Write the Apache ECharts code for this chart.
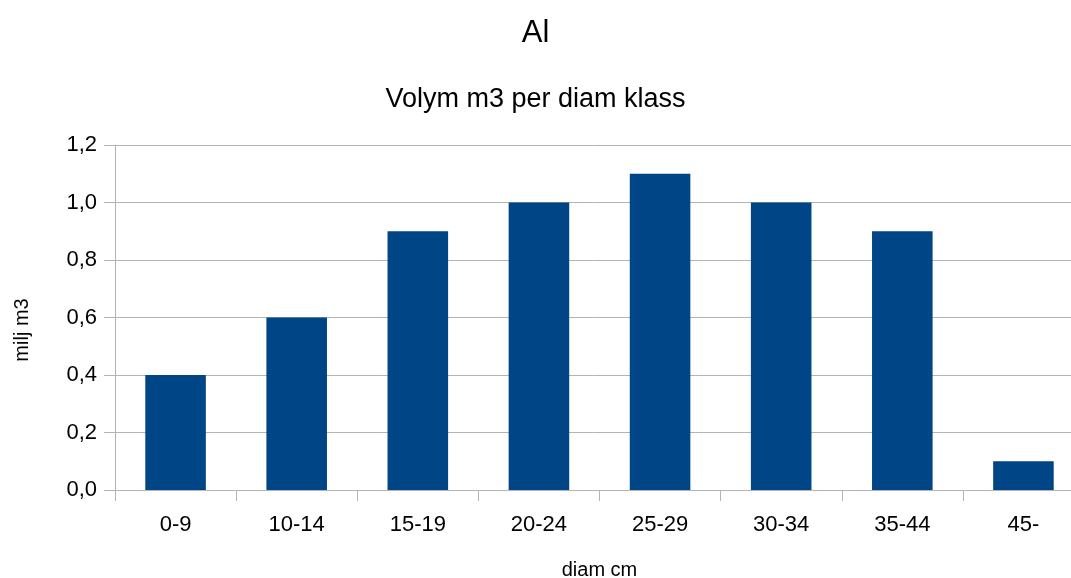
<!DOCTYPE html>
<html><head><meta charset="utf-8">
<script src="https://cdn.jsdelivr.net/npm/echarts@6/dist/echarts.min.js"></script>
<style>html,body{margin:0;padding:0;background:#fff;overflow:hidden}#c{width:1071px;height:578px}</style>
</head><body><div id="c"></div>
<script>
const categories = ['0-9','10-14','15-19','20-24','25-29','30-34','35-44','45-'];
const values = [0.4, 0.6, 0.9, 1.0, 1.1, 1.0, 0.9, 0.1];
const yTicks = [0, 0.2, 0.4, 0.6, 0.8, 1.0, 1.2];
const FONT = 'Liberation Sans';
const chart = echarts.init(document.getElementById('c'));
chart.setOption({
  animation: false,
  textStyle: {fontFamily: FONT},
  title: [
    {text: 'Al', left: 'center', top: 13, textStyle: {fontFamily: FONT, fontSize: 31, fontWeight: 'normal', color: '#000'}},
    {text: 'Volym m3 per diam klass', left: 'center', top: 81, textStyle: {fontFamily: FONT, fontSize: 27, fontWeight: 'normal', color: '#000'}}
  ],
  graphic: [
    {type: 'text', x: 22, y: 330, rotation: Math.PI / 2,
     style: {text: 'milj m3', fontFamily: FONT, fontSize: 20, fill: '#000', align: 'center', verticalAlign: 'middle'}}
  ],
  grid: {left: 115, top: 145, width: 969, height: 345, containLabel: false, outerBoundsMode: 'none'},
  xAxis: {
    type: 'category', data: categories,
    name: 'diam cm', nameLocation: 'middle', nameGap: 70,
    nameTextStyle: {fontFamily: FONT, fontSize: 20, color: '#000', align: 'center'},
    axisLine: {lineStyle: {color: '#b3b3b3', width: 1}},
    axisTick: {show: true, alignWithLabel: false, length: 11, lineStyle: {color: '#b3b3b3'}},
    axisLabel: {fontFamily: FONT, fontSize: 22, color: '#000', margin: 24}
  },
  yAxis: {
    type: 'value', min: 0, max: 1.2, interval: 0.2,
    axisLine: {show: true, lineStyle: {color: '#b3b3b3', width: 1}},
    axisTick: {show: true, length: 11, lineStyle: {color: '#b3b3b3'}},
    splitLine: {lineStyle: {color: '#b3b3b3', width: 1}},
    axisLabel: {fontFamily: FONT, fontSize: 22, color: '#000', margin: 18,
      formatter: v => { const t = yTicks.find(x => Math.abs(x - v) < 1e-9); return (t !== undefined ? t : v).toFixed(1).replace('.', ','); }}
  },
  series: [{
    type: 'bar', data: values, barCategoryGap: '50%',
    itemStyle: {color: '#004586'}
  }]
});
</script></body></html>
